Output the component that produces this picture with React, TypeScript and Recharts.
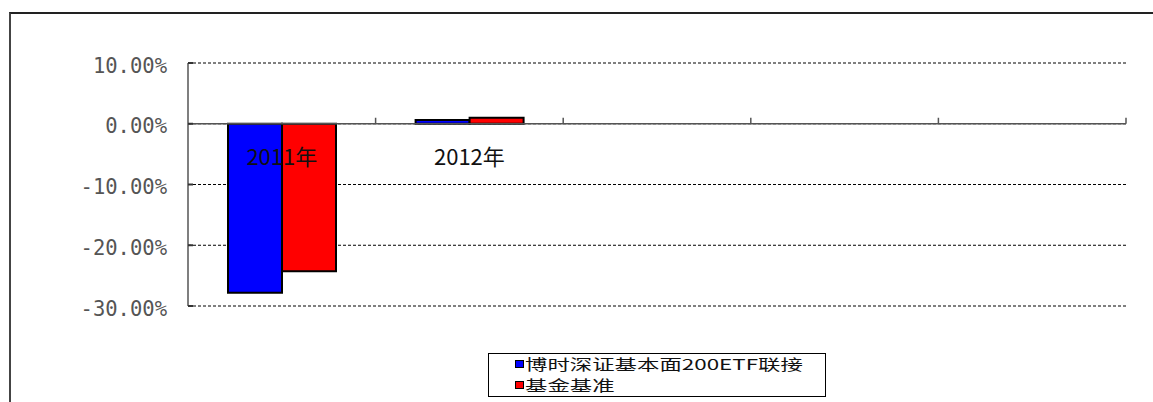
import React from "react";
import { BarChart, Bar, XAxis, YAxis, CartesianGrid, ReferenceLine, ReferenceDot } from "recharts";

// categories on the x axis (the last three slots are empty in the source)
const categories = ["2011年", "2012年", "", "", ""];
const fundValues = [-27.8, 0.6, null, null, null];
const benchValues = [-24.3, 1.0, null, null, null];
const yTicks = [-30, -20, -10, 0, 10];
const seriesNames = ["博时深证基本面200ETF联接", "基金基准"];
const seriesColors = ["#0000FF", "#FF0000"];

const W = 1153;
const H = 402;
const margin = { top: 63, right: 27, left: 88, bottom: 96 };
const yAxisWidth = 100;
const band = (W - margin.left - margin.right - yAxisWidth) / categories.length;

const data = categories.map((name, i) => ({
  idx: i,
  name,
  fund: fundValues[i],
  bench: benchValues[i],
}));

const YTick = (props: any) => {
  const { x, y, payload } = props;
  return (
    <g>
      <text x={x} y={y} dy={9.5} textAnchor="end" fontFamily="DejaVu Sans Mono" fontSize={20.5} fill="#555">
        {payload.value.toFixed(2) + "%"}
      </text>
      <line x1={x + 21} x2={x + 26} y1={y} y2={y} stroke="#333" strokeWidth={2} />
    </g>
  );
};

const CategoryMark = (label: string) => (p: any) =>
  (
    <g>
      <text x={p.cx} y={p.cy + 41} textAnchor="middle" fontFamily="Noto Sans CJK SC" fontSize={22} fill="#111">
        {label}
      </text>
      <line x1={p.cx + band / 2} x2={p.cx + band / 2} y1={p.cy} y2={p.cy - 6} stroke="#555" strokeWidth={1.5} />
    </g>
  );

const LegendBox = () => (
  <div
    style={{
      position: "absolute",
      left: 488,
      top: 353,
      width: 338,
      height: 44,
      boxSizing: "border-box",
      border: "1px solid #000",
      background: "#fff",
    }}
  >
    {seriesNames.map((n, i) => (
      <div key={n} style={{ display: "flex", alignItems: "center", height: 20.5, marginLeft: 26 }}>
        <span
          style={{
            width: 7,
            height: 6,
            background: seriesColors[i],
            border: "1.5px solid #000",
            marginRight: 1,
            flex: "none",
          }}
        />
        <span
          style={{
            fontFamily: "Noto Sans CJK SC",
            fontSize: 14,
            lineHeight: "20px",
            color: "#111",
            whiteSpace: "nowrap",
            display: "inline-block",
            transform: "scale(1.6, 1.05)",
            transformOrigin: "left center",
          }}
        >
          {n}
        </span>
      </div>
    ))}
  </div>
);

export default function App() {
  return (
    <div style={{ position: "absolute", left: 0, top: 0, width: W, height: H, overflow: "hidden", background: "#fff" }}>
      <div
        style={{
          position: "absolute",
          left: 9,
          top: 12,
          width: 1300,
          height: 500,
          borderLeft: "2px solid #444",
          borderTop: "2px solid #222",
        }}
      />
      <div style={{ position: "absolute", left: 0, top: 0 }}>
        <BarChart width={W} height={H} data={data} margin={margin} barGap={0}>
          <CartesianGrid vertical={false} stroke="#000" strokeDasharray="3 2" />
          <XAxis dataKey="idx" type="category" hide />
          <YAxis
            domain={[-30, 10]}
            ticks={yTicks}
            width={yAxisWidth}
            tickSize={0}
            tickMargin={21}
            tickLine={false}
            axisLine={{ stroke: "#555", strokeWidth: 1.5 }}
            tick={<YTick />}
          />
          <Bar dataKey="fund" name={seriesNames[0]} fill={seriesColors[0]} stroke="#000" strokeWidth={2} barSize={54} isAnimationActive={false} />
          <Bar dataKey="bench" name={seriesNames[1]} fill={seriesColors[1]} stroke="#000" strokeWidth={2} barSize={54} isAnimationActive={false} />
          <ReferenceLine y={0} stroke="#555" strokeWidth={1.5} />
          {categories.map((c, i) => (
            <ReferenceDot key={i} x={i} y={0} r={0} shape={CategoryMark(c)} />
          ))}
        </BarChart>
      </div>
      <LegendBox />
    </div>
  );
}
